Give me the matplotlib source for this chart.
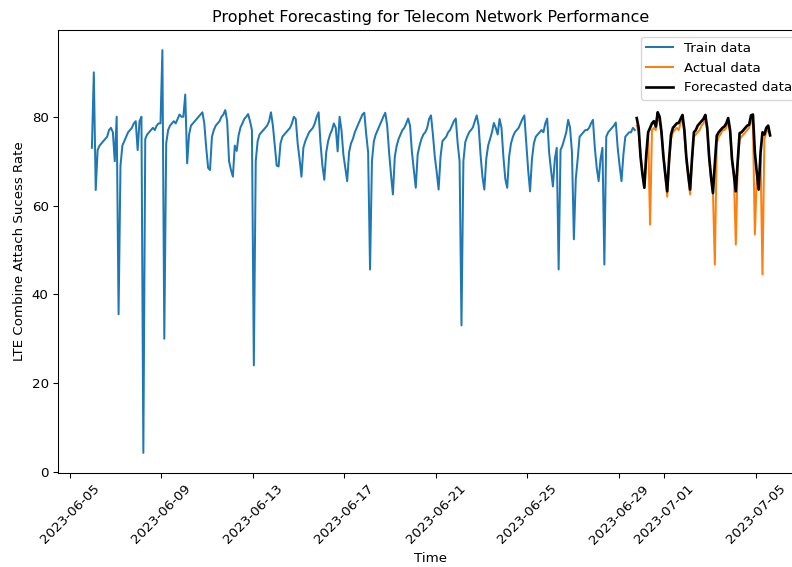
import pandas as pd
import matplotlib
matplotlib.use('Agg')
import matplotlib.pyplot as plt
import matplotlib.dates as mdates

# LTE combine attach success rate, 2-hourly samples (odd hours)
train_start = '2023-06-05 23:00'
test_start = '2023-06-29 19:00'

# 06-05 23:00, then 06-06 .. 06-12
train_wk1 = [73,
             90, 63.5, 72.5, 73.5, 74, 74.5, 75, 75.5, 77, 77.5, 76.5, 70,
             80, 35.5, 69, 73.5, 74.5, 75.5, 76.5, 77, 77.5, 78.5, 79, 72.5,
             79, 80, 4.3, 75, 76, 76.5, 77, 77.5, 77, 78, 78.5, 78.5,
             95, 30, 74, 77, 78, 78.5, 79, 78.5, 79.5, 80.5, 80, 80,
             85, 69.5, 76, 78, 78.5, 79, 79.5, 80, 80.5, 81, 78.5, 73,
             68.5, 68, 75.5, 77, 78, 78.5, 79, 80, 80.5, 81.5, 79, 70,
             68, 66.5, 73.5, 72.3, 75.8, 77.6, 78.5, 79.5, 80, 80.6, 79, 77]
# 06-13 .. 06-19
train_wk2 = [24, 70, 74.5, 76, 76.5, 77, 77.5, 78, 79, 81, 78, 73.5,
             69, 68.8, 74, 75.5, 76, 76.5, 77, 77.5, 78.5, 80, 79.5, 74,
             70.5, 66.5, 73, 74.5, 75.5, 76.5, 77, 77.5, 78.5, 80, 81, 74,
             69, 65.8, 72, 74.5, 76, 77, 78.5, 77.5, 72.2, 80, 77, 71.5,
             68.5, 65.5, 72, 74, 75, 76.5, 77.5, 78.5, 79.5, 80.5, 80.9, 76,
             72, 45.6, 70, 74.5, 76, 77, 78, 79, 80, 80.9, 78, 72,
             67, 62.5, 71, 73.5, 75, 76, 77, 77.5, 78.5, 79.6, 78, 72]
# 06-20 .. 06-26
train_wk3 = [68, 64, 71.5, 73.5, 75, 76, 76.5, 77.5, 79.5, 80.3, 76, 71,
             67.5, 63.6, 71, 74.5, 75, 75.5, 76.5, 77, 78, 79, 79.6, 74,
             70, 33, 70, 74.3, 75.5, 76.5, 77, 77.6, 79, 80.3, 78, 71.5,
             66.5, 63.6, 70.5, 73.5, 75, 76.5, 78.6, 77.5, 76, 79.5, 77.5, 71,
             66, 64, 71, 74, 75.5, 76.5, 77, 77.5, 78.5, 79.5, 80.3, 74,
             68, 63.2, 70.5, 74, 75.5, 76, 76.5, 77, 76.5, 78.5, 79.6, 72,
             68, 64.3, 70.5, 73, 45.6, 72.5, 73.5, 75, 76.5, 79.3, 77.5, 72]
# 06-27 .. 06-29 17:00
train_wk4 = [52.4, 66, 70.5, 75.5, 76, 76.5, 77, 77, 77.5, 78.5, 79.3, 73,
             68.5, 65.5, 70.5, 73, 46.7, 75.5, 76.5, 77, 77.5, 78, 78.7, 73,
             69, 65.5, 71.5, 75.5, 76, 76.5, 76.5, 77.5, 77]

# 06-29 19:00 .. 07-05 15:00
actual_values = [78, 76.5, 71.5,
                 67.5, 64.5, 71, 75.5, 55.7, 77, 77.5, 77, 79, 79.5, 76, 71.5,
                 66.5, 62, 69.5, 75, 76.5, 77, 77.5, 77, 78.5, 79.5, 76.5, 70.5,
                 66.5, 62.5, 70, 75.5, 76, 76.5, 77, 78, 78.5, 79.5, 77, 70.5,
                 66, 63, 46.7, 74, 75.5, 76, 77, 77, 77.5, 79, 76.5, 70,
                 66.5, 51.2, 69, 75, 75.5, 76, 76.5, 77, 77.5, 79.5, 78, 53.5,
                 66, 64, 70.5, 44.5, 75, 76.5, 77, 76]
forecast_values = [79.7, 77.5, 71,
                   67, 64, 71.5, 76.5, 77.5, 78.5, 79, 77.8, 81, 80, 76.5, 71,
                   67, 63.2, 70.5, 76, 77.5, 78, 78.5, 78.6, 79.5, 80.4, 77, 71,
                   67, 63.6, 70.5, 76.5, 77, 78, 78.5, 79, 79.5, 80.4, 77.5, 71,
                   66.5, 62.8, 69.5, 75.7, 76.5, 77, 77.5, 77.8, 78.5, 79.7, 77, 70.5,
                   67, 63.2, 70, 76.3, 76.5, 77, 77.5, 78, 78.2, 80.3, 80.5, 72,
                   67.5, 63.6, 72, 76.5, 76, 77.5, 78, 75.8]

train_y = train_wk1 + train_wk2 + train_wk3 + train_wk4
train_t = pd.date_range(train_start, periods=len(train_y), freq='2h')
test_t = pd.date_range(test_start, periods=len(actual_values), freq='2h')

fig = plt.figure(figsize=(792 / 96, 567 / 96), dpi=96)
# axes run a little past the right edge of the canvas
ax = fig.add_axes([58 / 792, 94 / 567, 746 / 792, 443 / 567])

ax.plot(train_t, train_y, label='Train data')
ax.plot(test_t, actual_values, label='Actual data')
ax.plot(test_t, forecast_values, color='black', linewidth=2, label='Forecasted data')

ax.xaxis.set_major_locator(mdates.DayLocator(bymonthday=[1, 5, 9, 13, 17, 21, 25, 29]))
ax.xaxis.set_major_formatter(mdates.DateFormatter('%Y-%m-%d'))
plt.setp(ax.get_xticklabels(), rotation=45)

ax.set_title('Prophet Forecasting for Telecom Network Performance')
ax.set_xlabel('Time')
ax.set_ylabel('LTE Combine Attach Sucess Rate')
ax.legend(loc='upper right')

fig.savefig('out.png', dpi=96)
